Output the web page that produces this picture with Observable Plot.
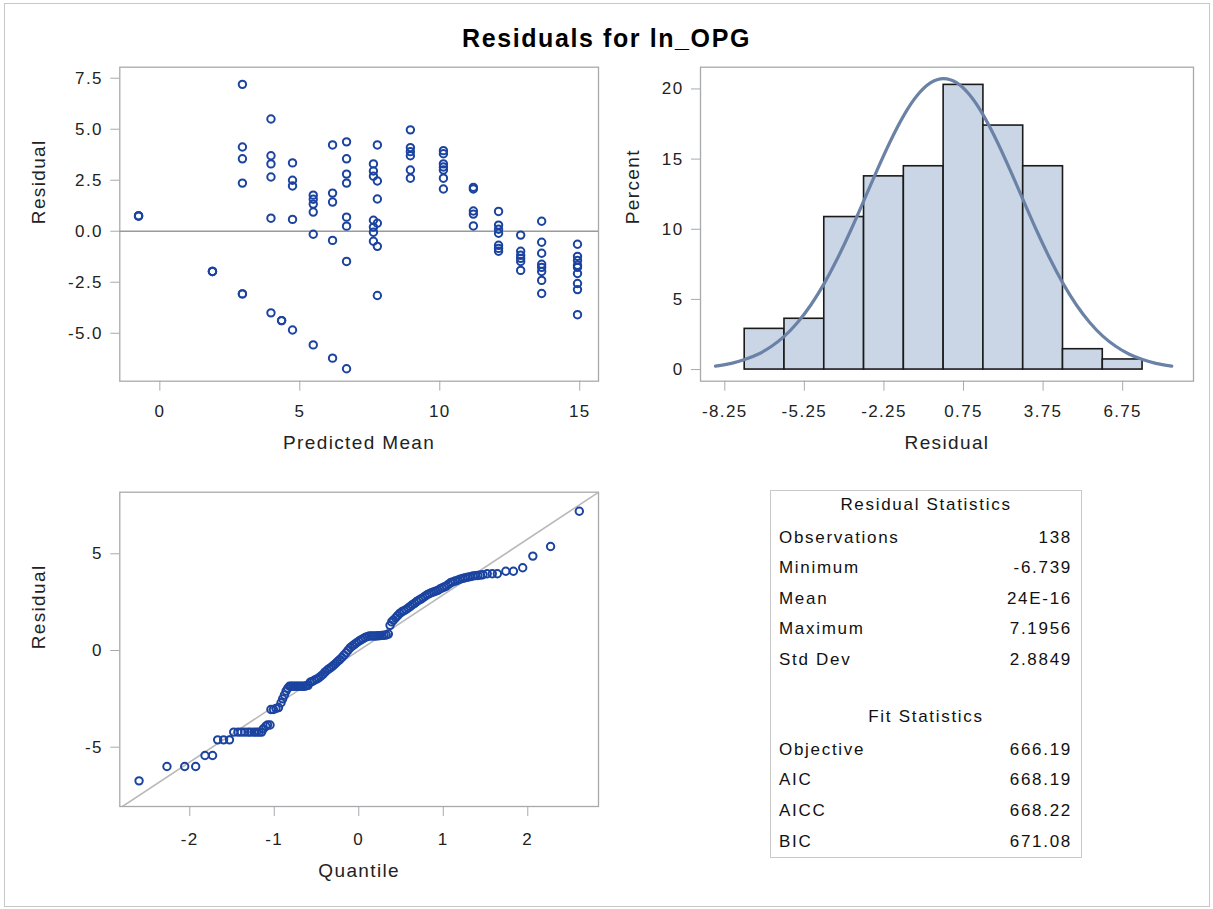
<!DOCTYPE html>
<html><head><meta charset="utf-8">
<script src="https://cdn.jsdelivr.net/npm/d3@7"></script>
<script src="https://cdn.jsdelivr.net/npm/@observablehq/plot@0.6"></script>
<style>
body{margin:0;background:#fff;font-family:"Liberation Sans",Arial,sans-serif;}
#page{position:relative;width:1213px;height:909px;overflow:hidden;background:#fff;}
#border{position:absolute;left:4px;top:3px;width:1204px;height:902px;border:1px solid #c8c8c8;}
#title{position:absolute;left:0;width:1213px;top:23px;line-height:30px;text-align:center;font-weight:bold;font-size:25px;letter-spacing:1.6px;color:#000;}
.panel{position:absolute;}
#table{position:absolute;left:770px;top:490px;width:310px;height:366px;border:1px solid #c8c8c8;font-size:17px;letter-spacing:1.7px;color:#111;}
.row{position:absolute;left:0;width:100%;height:24px;line-height:24px;}
.lab{position:absolute;left:8px;}
.val{position:absolute;right:9px;}
.head{position:absolute;left:0;width:100%;text-align:center;}
</style>
</head><body>
<div id="page">
  <div id="border"></div>
  <div id="title"></div>
  <div id="p1" class="panel" style="left:0;top:50px"></div>
  <div id="p2" class="panel" style="left:610px;top:50px"></div>
  <div id="p3" class="panel" style="left:0;top:480px"></div>
  <div id="table"></div>
</div>
<script>
// ---------- data ----------
const chartTitle = "Residuals for ln_OPG";

// Residual vs predicted mean (grouped by predicted-mean level)
const predictedLevels = [-0.76, 1.88, 2.95, 3.97, 4.35, 4.74, 5.48, 6.17, 6.67, 7.63, 7.77, 8.95, 10.13, 11.2, 12.1, 12.89, 13.64, 14.92];
const residualsByLevel = [
  [0.75, 0.75, 0.75],
  [-1.97, -1.97, -1.97],
  [7.2, 4.13, 3.55, 2.36, -3.07, -3.07],
  [5.5, 3.7, 3.3, 2.66, 0.64, -4.0],
  [-4.38, -4.38],
  [3.35, 2.5, 2.22, 0.58, -4.84],
  [1.77, 1.57, 1.33, 0.94, -0.15, -5.57],
  [4.23, 1.87, 1.43, -0.45, -6.22],
  [4.38, 3.55, 2.8, 2.36, 0.69, 0.25, -1.48, -6.74],
  [3.3, 2.95, 2.7, 0.54, 0.2, -0.05, -0.49],
  [4.23, 2.46, 1.58, 0.39, -0.74, -3.15],
  [4.97, 4.1, 3.9, 3.7, 3.0, 2.6],
  [3.95, 3.8, 3.3, 3.15, 3.0, 2.6, 2.07],
  [2.15, 2.07, 0.99, 0.84, 0.26],
  [0.97, 0.3, 0.1, -0.1, -0.69, -0.84, -0.98],
  [-0.19, -0.98, -1.18, -1.33, -1.48, -1.92],
  [0.49, -0.54, -1.08, -1.62, -1.77, -1.97, -2.41, -3.05],
  [-0.64, -1.23, -1.43, -1.67, -1.77, -2.07, -2.56, -2.86, -4.09]
];
const scatterXTicks = [0, 5, 10, 15];
const scatterYTicks = [-5, -2.5, 0, 2.5, 5, 7.5];

// Histogram of residuals (percent per bin)
const binLower = [-7.5, -6, -4.5, -3, -1.5, 0, 1.5, 3, 4.5, 6];
const binUpper = [-6, -4.5, -3, -1.5, 0, 1.5, 3, 4.5, 6, 7.5];
const binPercent = [2.90, 3.62, 10.87, 13.77, 14.49, 20.29, 17.39, 14.49, 1.45, 0.72];
const histXTicks = [-8.25, -5.25, -2.25, 0.75, 3.75, 6.75];
const histYTicks = [0, 5, 10, 15, 20];
// Normal density curve (percent scale)
const curveX = [-8.6, -8, -7.5, -7, -6.5, -6, -5.5, -5, -4.5, -4, -3.5, -3, -2.5, -2, -1.5, -1, -0.5, 0, 0.5, 1, 1.5, 2, 2.5, 3, 3.5, 4, 4.5, 5, 5.5, 6, 6.5, 7, 7.5, 8, 8.6];
const curvePercent = [0.24, 0.44, 0.71, 1.09, 1.64, 2.38, 3.37, 4.62, 6.14, 7.93, 9.93, 12.08, 14.25, 16.31, 18.12, 19.53, 20.43, 20.74, 20.43, 19.53, 18.12, 16.31, 14.25, 12.08, 9.93, 7.93, 6.14, 4.62, 3.37, 2.38, 1.64, 1.09, 0.71, 0.44, 0.24];

// Q-Q plot points (normal quantile, residual)
const qqQuantile = [-2.60, -2.27, -2.06, -1.93, -1.82, -1.73, -1.67, -1.60, -1.53,
  -1.48, -1.43, -1.39, -1.35, -1.31, -1.28, -1.24, -1.21, -1.18, -1.15,
  -1.13, -1.10, -1.08, -1.05, -1.04, -1.01, -0.98, -0.95,
  -0.92, -0.90, -0.88, -0.86, -0.84,
  -0.82, -0.80, -0.78, -0.76, -0.74, -0.72, -0.70, -0.68, -0.66, -0.64, -0.62, -0.60,
  -0.575, -0.55, -0.525, -0.50, -0.475, -0.45, -0.425, -0.40, -0.375, -0.35, -0.325, -0.30, -0.275, -0.25, -0.225, -0.20, -0.175, -0.15, -0.125, -0.10, -0.075, -0.05, -0.025, 0.00, 0.025, 0.05, 0.075, 0.10,
  0.125, 0.15, 0.175, 0.20, 0.225, 0.25, 0.275, 0.30, 0.325, 0.35,
  0.37, 0.39, 0.41, 0.435, 0.46, 0.485, 0.51, 0.535, 0.56, 0.585, 0.61, 0.635, 0.66, 0.685, 0.71, 0.735, 0.76, 0.785, 0.81, 0.835, 0.86, 0.885, 0.91, 0.935, 0.96, 0.985, 1.01, 1.035, 1.06, 1.085, 1.11, 1.14, 1.17, 1.20, 1.23, 1.26, 1.29, 1.32, 1.35, 1.38, 1.41, 1.44, 1.47,
  1.52, 1.58, 1.64, 1.74, 1.83, 1.94, 2.06, 2.27, 2.61];
const qqResidual = [-6.74, -6.0, -6.0, -6.0, -5.43, -5.43, -4.62, -4.62, -4.62,
  -4.22, -4.22, -4.22, -4.22, -4.22, -4.22, -4.22, -4.22, -4.22, -4.22,
  -4.05, -3.92, -3.85, -3.85, -3.05, -3.05, -3.0, -2.95,
  -2.7, -2.5, -2.3, -2.1, -1.95,
  -1.85, -1.85, -1.85, -1.85, -1.85, -1.85, -1.85, -1.85, -1.85, -1.85, -1.82, -1.80,
  -1.64, -1.6, -1.54, -1.48, -1.42, -1.33, -1.24, -1.12, -1.02, -0.94, -0.86, -0.77, -0.67, -0.57, -0.47, -0.36, -0.24, -0.12, 0.02, 0.15, 0.24, 0.32, 0.40, 0.48, 0.55, 0.61, 0.67, 0.72,
  0.75, 0.75, 0.75, 0.75, 0.76, 0.77, 0.78, 0.79, 0.8, 0.85,
  1.3, 1.48, 1.57, 1.68, 1.8, 1.92, 2.0, 2.06, 2.12, 2.2, 2.28, 2.37, 2.44, 2.53, 2.6, 2.66, 2.73, 2.81, 2.88, 2.94, 2.99, 3.03, 3.07, 3.11, 3.18, 3.23, 3.28, 3.33, 3.42, 3.5, 3.55, 3.59, 3.63, 3.69, 3.73, 3.76, 3.79, 3.82, 3.85, 3.87, 3.88, 3.9, 3.92,
  3.97, 3.97, 3.97, 4.1, 4.1, 4.28, 4.88, 5.38, 7.2];
const qqRefX = [-2.83, 2.84];
const qqRefY = [-8.16, 8.19];
const qqXTicks = [-2, -1, 0, 1, 2];
const qqYTicks = [-5, 0, 5];

// Statistics tables
const residualStatsTitle = "Residual Statistics";
const residualStatLabels = ["Observations", "Minimum", "Mean", "Maximum", "Std Dev"];
const residualStatValues = ["138", "-6.739", "24E-16", "7.1956", "2.8849"];
const fitStatsTitle = "Fit Statistics";
const fitStatLabels = ["Objective", "AIC", "AICC", "BIC"];
const fitStatValues = ["666.19", "668.19", "668.22", "671.08"];

// ---------- rendering ----------
const blue = "#1b43a0";
const frameGray = "#a7aaad";
const textColor = "#222";
const plotStyle = {fontFamily: "'Liberation Sans', Arial, sans-serif", fontSize: "17px", letterSpacing: "0.08em", color: textColor, background: "transparent", overflow: "visible"};
const loc = d3.formatLocale({decimal: ".", thousands: ",", grouping: [3], currency: ["$", ""], minus: "-"});
const fmtInt = loc.format("d");
const fmt1 = loc.format(".1f");
const fmt2 = loc.format(".2f");

document.getElementById("title").textContent = chartTitle;

const scatterData = predictedLevels.flatMap((p, i) => residualsByLevel[i].map(r => ({pred: p, res: r})));

const p1 = Plot.plot({
  width: 610, height: 430,
  marginLeft: 119.3, marginRight: 12, marginTop: 16.7, marginBottom: 99.3,
  style: plotStyle,
  x: {domain: [-1.43, 15.67]},
  y: {domain: [-7.35, 8.04]},
  marks: [
    Plot.frame({stroke: frameGray, strokeWidth: 1.3}),
    Plot.ruleY([0], {stroke: "#9a9a9a", strokeWidth: 1.5}),
    Plot.axisX({ticks: scatterXTicks, tickFormat: fmtInt, tickSize: 10, tickPadding: 14, stroke: frameGray, fill: textColor, label: null}),
    Plot.axisY({ticks: scatterYTicks, tickFormat: fmt1, tickSize: 9, tickPadding: 8, stroke: frameGray, fill: textColor, label: null}),
    Plot.dot(scatterData, {x: "pred", y: "res", r: 3.7, stroke: blue, strokeWidth: 2}),
    Plot.text(["Predicted Mean"], {text: d => d, frameAnchor: "bottom", dy: 68, fontSize: 19, fill: textColor}),
    Plot.text(["Residual"], {text: d => d, frameAnchor: "left", dx: -81, rotate: -90, fontSize: 19, fill: textColor})
  ]
});
document.getElementById("p1").append(p1);

const histData = binLower.map((lo, i) => ({lo, hi: binUpper[i], pct: binPercent[i]}));
const curveData = curveX.map((x, i) => ({x, y: curvePercent[i]}));

const p2 = Plot.plot({
  width: 600, height: 430,
  marginLeft: 90, marginRight: 17, marginTop: 16.7, marginBottom: 99.3,
  style: plotStyle,
  x: {domain: [-9.166, 9.42]},
  y: {domain: [-0.83, 21.55]},
  marks: [
    Plot.frame({stroke: frameGray, strokeWidth: 1.3}),
    Plot.rectY(histData, {x1: "lo", x2: "hi", y: "pct", fill: "#cad5e5", stroke: "#1a1a1a", strokeWidth: 1.6}),
    Plot.line(curveData, {x: "x", y: "y", stroke: "#6a82a6", strokeWidth: 3.2, curve: "natural"}),
    Plot.axisX({ticks: histXTicks, tickFormat: fmt2, tickSize: 10, tickPadding: 14, stroke: frameGray, fill: textColor, label: null}),
    Plot.axisY({ticks: histYTicks, tickFormat: fmtInt, tickSize: 9, tickPadding: 8, stroke: frameGray, fill: textColor, label: null}),
    Plot.text(["Residual"], {text: d => d, frameAnchor: "bottom", dy: 68, fontSize: 19, fill: textColor}),
    Plot.text(["Percent"], {text: d => d, frameAnchor: "left", dx: -68, rotate: -90, fontSize: 19, fill: textColor})
  ]
});
document.getElementById("p2").append(p2);

const qqData = qqQuantile.map((q, i) => ({q, r: qqResidual[i]}));
const qqRef = qqRefX.map((x, i) => ({x, y: qqRefY[i]}));

const p3 = Plot.plot({
  width: 610, height: 420,
  marginLeft: 119.3, marginRight: 12, marginTop: 11.7, marginBottom: 94,
  style: plotStyle,
  x: {domain: [-2.828, 2.837]},
  y: {domain: [-8.066, 8.185]},
  marks: [
    Plot.frame({stroke: frameGray, strokeWidth: 1.3}),
    Plot.line(qqRef, {x: "x", y: "y", stroke: "#b8b8b8", strokeWidth: 1.6, clip: true}),
    Plot.axisX({ticks: qqXTicks, tickFormat: fmtInt, tickSize: 10, tickPadding: 16, stroke: frameGray, fill: textColor, label: null}),
    Plot.axisY({ticks: qqYTicks, tickFormat: fmtInt, tickSize: 9, tickPadding: 8, stroke: frameGray, fill: textColor, label: null}),
    Plot.dot(qqData, {x: "q", y: "r", r: 3.7, stroke: blue, strokeWidth: 2}),
    Plot.text(["Quantile"], {text: d => d, frameAnchor: "bottom", dy: 70, fontSize: 19, fill: textColor}),
    Plot.text(["Residual"], {text: d => d, frameAnchor: "left", dx: -81, rotate: -90, fontSize: 19, fill: textColor})
  ]
});
document.getElementById("p3").append(p3);

// table
const table = document.getElementById("table");
function addRow(center, label, value, isHead) {
  const row = document.createElement("div");
  row.className = "row";
  row.style.top = (center - 490 - 13) + "px";
  if (isHead) {
    const h = document.createElement("div"); h.className = "head"; h.textContent = label; row.append(h);
  } else {
    const l = document.createElement("div"); l.className = "lab"; l.textContent = label;
    const v = document.createElement("div"); v.className = "val"; v.textContent = value;
    row.append(l, v);
  }
  table.append(row);
}
const resCenters = [538, 568, 599, 629, 660];
const fitCenters = [750, 780, 811, 842];
addRow(505, residualStatsTitle, "", true);
residualStatLabels.forEach((l, i) => addRow(resCenters[i], l, residualStatValues[i], false));
addRow(717, fitStatsTitle, "", true);
fitStatLabels.forEach((l, i) => addRow(fitCenters[i], l, fitStatValues[i], false));
</script>
</body></html>
